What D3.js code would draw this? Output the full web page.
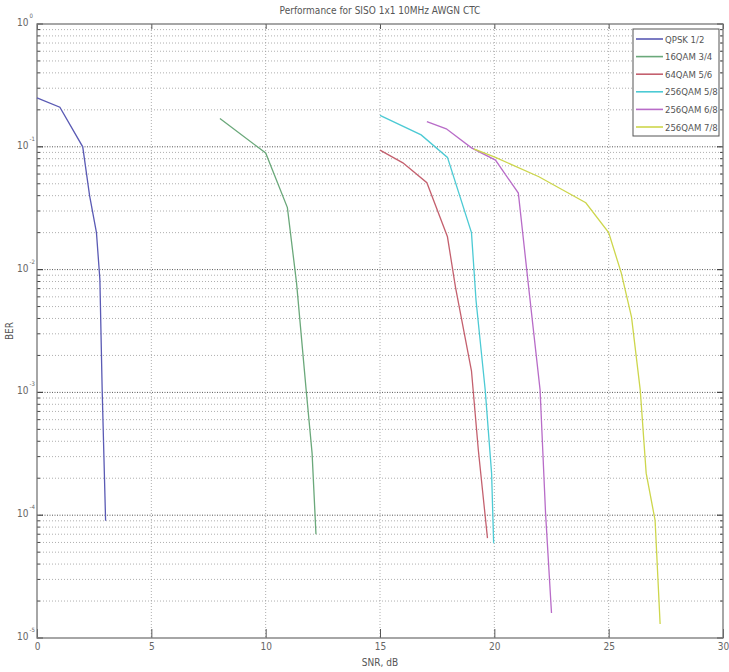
<!DOCTYPE html>
<html>
<head>
<meta charset="utf-8">
<title>Performance for SISO 1x1 10MHz AWGN CTC</title>
<script src="https://cdn.jsdelivr.net/npm/d3@7/dist/d3.min.js"></script>
<style>
  body { margin: 0; background: #fff; }
  text { font-family: "Liberation Sans Narrow", "DejaVu Sans Condensed", "Liberation Sans", sans-serif; fill: #555; }
</style>
</head>
<body>
<svg id="chart" width="729" height="672"></svg>
<script>
// series names and colours
var names = ['QPSK 1/2', '16QAM 3/4', '64QAM 5/6', '256QAM 5/8', '256QAM 6/8', '256QAM 7/8'];
var colors = ['#5a5ab4', '#6aa87a', '#c4606e', '#4ccad4', '#b86cc8', '#cdd64c'];

// SNR (dB) and BER
var qpskSnr = [0, 1, 2, 2.3, 2.6, 2.75, 2.85, 3.0];
var qpskBer = [0.25, 0.21, 0.1, 0.04, 0.02, 0.0083, 0.00105, 9e-5];
var qam16Snr = [8.0, 10.0, 10.95, 11.35, 11.77, 12.03, 12.2];
var qam16Ber = [0.17, 0.089, 0.032, 0.0078, 0.00105, 3.2e-4, 7e-5];
var qam64Snr = [15.0, 16.0, 17.05, 17.95, 18.3, 19.0, 19.3, 19.7];
var qam64Ber = [0.094, 0.074, 0.051, 0.0185, 0.0072, 0.0015, 3.4e-4, 6.5e-5];
var qam256aSnr = [15.0, 16.8, 17.95, 19.0, 19.2, 19.6, 19.88, 19.97];
var qam256aBer = [0.18, 0.125, 0.082, 0.02, 0.0056, 0.00105, 2.2e-4, 5.9e-5];
var qam256bSnr = [17.05, 17.9, 19.0, 20.05, 21.05, 21.5, 22.0, 22.24, 22.5];
var qam256bBer = [0.16, 0.14, 0.098, 0.078, 0.042, 0.0072, 0.00105, 1.04e-4, 1.6e-5];
var qam256cSnr = [19.1, 20.05, 21.95, 24.0, 25.0, 25.55, 26.0, 26.38, 26.64, 27.03, 27.25];
var qam256cBer = [0.096, 0.082, 0.057, 0.035, 0.02, 0.0094, 0.0041, 0.00105, 2.2e-4, 9.1e-5, 1.3e-5];

var xTicks = [0, 5, 10, 15, 20, 25, 30];
var yDecades = [0, -1, -2, -3, -4, -5];

var seriesX = [qpskSnr, qam16Snr, qam64Snr, qam256aSnr, qam256bSnr, qam256cSnr];
var seriesY = [qpskBer, qam16Ber, qam64Ber, qam256aBer, qam256bBer, qam256cBer];

var pLeft = 37, pRight = 723, pTop = 24, pBottom = 638;
var svg = d3.select('#chart');

var x = d3.scaleLinear().domain([0, 30]).range([pLeft, pRight]);
var y = d3.scaleLog().domain([1e-5, 1]).range([pBottom, pTop]);

// grid: minor log lines, then decade lines
var minor = [];
yDecades.forEach(function (e) {
  if (e === 0) return;
  for (var m = 2; m <= 9; m++) minor.push(m * Math.pow(10, e));
});
var decades = yDecades.map(function (e) { return Math.pow(10, e); });

var grid = svg.append('g');
grid.selectAll('.minor').data(minor).enter().append('line')
  .attr('x1', pLeft).attr('x2', pRight)
  .attr('y1', function (d) { return y(d); }).attr('y2', function (d) { return y(d); })
  .attr('stroke', '#9a9a9a').attr('stroke-width', 0.8).attr('stroke-dasharray', '1,2');
grid.selectAll('.major').data(decades.slice(1, -1)).enter().append('line')
  .attr('x1', pLeft).attr('x2', pRight)
  .attr('y1', function (d) { return y(d); }).attr('y2', function (d) { return y(d); })
  .attr('stroke', '#555').attr('stroke-width', 1).attr('stroke-dasharray', '1,1.5');
grid.selectAll('.vert').data(xTicks.slice(1, -1)).enter().append('line')
  .attr('x1', function (d) { return x(d); }).attr('x2', function (d) { return x(d); })
  .attr('y1', pTop).attr('y2', pBottom)
  .attr('stroke', '#999').attr('stroke-width', 0.8).attr('stroke-dasharray', '1,2');

// axes (ticks inside, like matlab)
svg.append('g').attr('transform', 'translate(0,' + pBottom + ')')
  .call(d3.axisBottom(x).tickValues(xTicks).tickSizeInner(-9).tickSizeOuter(0).tickPadding(5).tickFormat(d3.format('d')))
  .call(function (g) {
    g.select('.domain').remove();
    g.selectAll('line').attr('stroke', '#555');
    g.selectAll('text').attr('font-size', 10).style('fill', '#666');
  });
svg.append('g').attr('transform', 'translate(0,' + pTop + ')')
  .call(d3.axisTop(x).tickValues(xTicks).tickSizeInner(-5).tickSizeOuter(0).tickFormat(''))
  .call(function (g) { g.select('.domain').remove(); g.selectAll('line').attr('stroke', '#555'); });

[pLeft, pRight].forEach(function (xx, i) {
  var dir = i === 0 ? 1 : -1;
  var t = svg.append('g');
  t.selectAll('.mt').data(minor).enter().append('line')
    .attr('x1', xx).attr('x2', xx + dir * 3)
    .attr('y1', function (d) { return y(d); }).attr('y2', function (d) { return y(d); })
    .attr('stroke', '#444').attr('stroke-width', 1);
  t.selectAll('.Mt').data(decades).enter().append('line')
    .attr('x1', xx).attr('x2', xx + dir * 6)
    .attr('y1', function (d) { return y(d); }).attr('y2', function (d) { return y(d); })
    .attr('stroke', '#444').attr('stroke-width', 1.2);
});

// y labels 10^e
var yl = svg.append('g').selectAll('text').data(yDecades).enter().append('text')
  .attr('x', 17).attr('y', function (d) { return y(Math.pow(10, d)) + 2; })
  .attr('font-size', 10).style('fill', '#666');
yl.append('tspan').text('10');
yl.append('tspan').attr('dx', 1).attr('dy', -8).attr('font-size', 6).text(function (d) { return d === 0 ? '0' : '-' + (-d); });

// border
svg.append('rect').attr('x', pLeft).attr('y', pTop).attr('width', pRight - pLeft).attr('height', pBottom - pTop)
  .attr('fill', 'none').attr('stroke', '#777').attr('stroke-width', 1.3);

// curves
var line = d3.line().x(function (d) { return x(d[0]); }).y(function (d) { return y(d[1]); });
svg.append('g').selectAll('path').data(seriesX).enter().append('path')
  .attr('d', function (sx, i) { return line(sx.map(function (v, j) { return [v, seriesY[i][j]]; })); })
  .attr('fill', 'none').attr('stroke', function (d, i) { return colors[i]; }).attr('stroke-width', 1.3);

// legend
var lg = svg.append('g');
lg.append('rect').attr('x', 633).attr('y', 29).attr('width', 86).attr('height', 107)
  .attr('fill', '#fff').attr('stroke', '#555').attr('stroke-width', 1);
var items = lg.selectAll('g').data(names).enter().append('g')
  .attr('transform', function (d, i) { return 'translate(0,' + (39 + i * 17.6) + ')'; });
items.append('line').attr('x1', 636).attr('x2', 663).attr('y1', 0).attr('y2', 0)
  .attr('stroke', function (d, i) { return colors[i]; }).attr('stroke-width', 1.6);
items.append('text').attr('x', 665).attr('y', 3.5).attr('font-size', 9.5).style('fill', '#555').text(function (d) { return d; });

// titles
svg.append('text').attr('x', 380).attr('y', 14).attr('text-anchor', 'middle').attr('font-size', 10)
  .text('Performance for SISO 1x1 10MHz AWGN CTC');
svg.append('text').attr('x', 380).attr('y', 666).attr('text-anchor', 'middle').attr('font-size', 10)
  .text('SNR, dB');
svg.append('text').attr('transform', 'translate(13,331) rotate(-90)').attr('text-anchor', 'middle').attr('font-size', 10)
  .text('BER');
</script>
</body>
</html>
